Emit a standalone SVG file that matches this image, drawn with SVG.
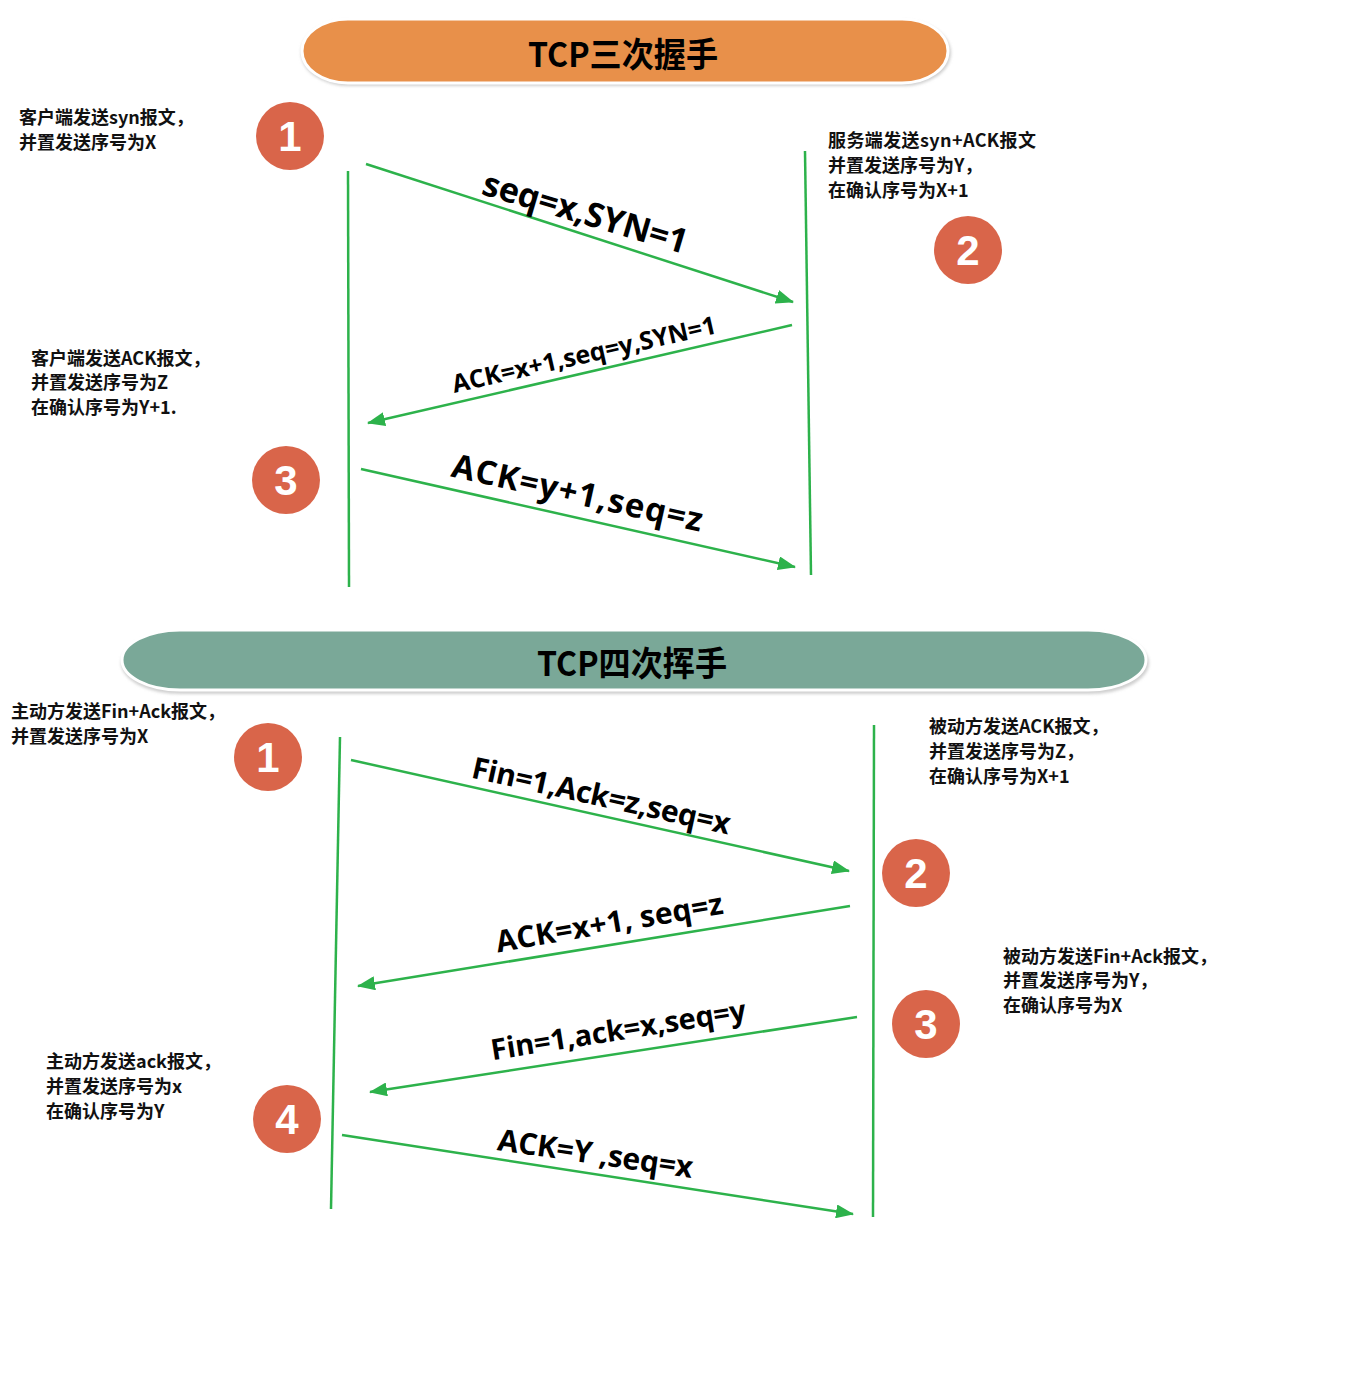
<svg xmlns="http://www.w3.org/2000/svg" width="1356" height="1390" viewBox="0 0 1356 1390">
<style>
.note{font-family:"Noto Sans CJK SC","Noto Sans",sans-serif;font-size:18px;font-weight:bold;fill:#111}
.title{font-family:"Noto Sans CJK SC","Noto Sans",sans-serif;font-size:34px;font-weight:bold;fill:#000}
.lbl{font-family:"Open Sans","Noto Sans",sans-serif;font-weight:bold;fill:#000}
.num{font-family:"Liberation Sans",Arial,sans-serif;font-size:42px;font-weight:bold;fill:#fff}
.life{stroke:#2DB24B;stroke-width:2.5;fill:none}
.msg{stroke:#2DB24B;stroke-width:2.5;fill:none;marker-end:url(#ah)}
.badge{fill:#D9654A}
</style>
<defs>
<marker id="ah" markerUnits="userSpaceOnUse" markerWidth="18" markerHeight="14" refX="17" refY="7" orient="auto">
<path d="M0,0 L18,7 L0,14 z" fill="#2DB24B"/>
</marker>
<filter id="sh" x="-5%" y="-30%" width="110%" height="160%">
<feGaussianBlur stdDeviation="1.5"/>
</filter>
</defs>
<rect width="1356" height="1390" fill="#fff"/>

<g id="title-handshake">
<rect x="301" y="20" width="650" height="66" rx="48" ry="33" fill="#cfcfcf" filter="url(#sh)"/>
<rect x="302" y="19" width="646" height="64" rx="46" ry="32" fill="#E8904A" stroke="#fff" stroke-width="3"/>
<text class="title" x="623" y="67" text-anchor="middle" textLength="190" lengthAdjust="spacingAndGlyphs">TCP三次握手</text>
</g>

<g id="title-wave">
<rect x="121" y="632" width="1028" height="62" rx="60" ry="31" fill="#cfcfcf" filter="url(#sh)"/>
<rect x="122" y="630" width="1024" height="60" rx="58" ry="30" fill="#7AA898" stroke="#fff" stroke-width="3"/>
<text class="title" x="632" y="676" text-anchor="middle" textLength="190" lengthAdjust="spacingAndGlyphs">TCP四次挥手</text>
</g>

<g id="lifelines">
<line class="life" x1="348" y1="171" x2="349" y2="587"/>
<line class="life" x1="805" y1="151" x2="811" y2="575"/>
<line class="life" x1="340" y1="737" x2="331" y2="1209"/>
<line class="life" x1="874" y1="725" x2="873" y2="1217"/>
</g>

<g id="connectors">
<line class="msg" x1="366" y1="164" x2="793" y2="302"/>
<line class="msg" x1="792" y1="325" x2="368" y2="423"/>
<line class="msg" x1="361" y1="469" x2="795" y2="567"/>
<line class="msg" x1="351" y1="760" x2="849" y2="871"/>
<line class="msg" x1="850" y1="906" x2="358" y2="986"/>
<line class="msg" x1="857" y1="1017" x2="370" y2="1092"/>
<line class="msg" x1="342" y1="1135" x2="853" y2="1214"/>
</g>

<g id="msg-labels">
<text class="lbl" font-size="34" text-anchor="middle" textLength="212" transform="translate(582,224) rotate(16.5)">seq=x,SYN=1</text>
<text class="lbl" font-size="25" text-anchor="middle" textLength="270" transform="translate(586,363) rotate(-12.8)">ACK=x+1,seq=y,SYN=1</text>
<text class="lbl" font-size="33" text-anchor="middle" textLength="256" transform="translate(575,504) rotate(12.5)">ACK=y+1,seq=z</text>
<text class="lbl" font-size="30" text-anchor="middle" textLength="264" transform="translate(599,806) rotate(12.5)">Fin=1,Ack=z,seq=x</text>
<text class="lbl" font-size="30" text-anchor="middle" textLength="230" transform="translate(611,933) rotate(-9.7)">ACK=x+1, seq=z</text>
<text class="lbl" font-size="29" text-anchor="middle" textLength="258" transform="translate(620,1040) rotate(-9)">Fin=1,ack=x,seq=y</text>
<text class="lbl" font-size="30" text-anchor="middle" textLength="197" transform="translate(594,1164) rotate(8.2)">ACK=Y ,seq=x</text>
</g>

<g id="step1-syn">
<circle class="badge" cx="290" cy="136" r="34"/>
<text class="num" x="290" y="151" text-anchor="middle">1</text>
<text class="note" x="19" y="124">客户端发送syn报文，</text>
<text class="note" x="19" y="149">并置发送序号为X</text>
</g>

<g id="step2-synack">
<circle class="badge" cx="968" cy="250" r="34"/>
<text class="num" x="968" y="265" text-anchor="middle">2</text>
<text class="note" x="828" y="147" textLength="208">服务端发送syn+ACK报文</text>
<text class="note" x="828" y="172">并置发送序号为Y，</text>
<text class="note" x="828" y="197">在确认序号为X+1</text>
</g>

<g id="step3-ack">
<circle class="badge" cx="286" cy="480" r="34"/>
<text class="num" x="286" y="495" text-anchor="middle">3</text>
<text class="note" x="31" y="365">客户端发送ACK报文，</text>
<text class="note" x="31" y="389">并置发送序号为Z</text>
<text class="note" x="31" y="414">在确认序号为Y+1.</text>
</g>

<g id="wave1">
<circle class="badge" cx="268" cy="757" r="34"/>
<text class="num" x="268" y="772" text-anchor="middle">1</text>
<text class="note" x="11" y="718">主动方发送Fin+Ack报文，</text>
<text class="note" x="11" y="743">并置发送序号为X</text>
</g>

<g id="wave2">
<circle class="badge" cx="916" cy="873" r="34"/>
<text class="num" x="916" y="888" text-anchor="middle">2</text>
<text class="note" x="929" y="733">被动方发送ACK报文，</text>
<text class="note" x="929" y="758">并置发送序号为Z，</text>
<text class="note" x="929" y="783">在确认序号为X+1</text>
</g>

<g id="wave3">
<circle class="badge" cx="926" cy="1024" r="34"/>
<text class="num" x="926" y="1039" text-anchor="middle">3</text>
<text class="note" x="1003" y="963">被动方发送Fin+Ack报文，</text>
<text class="note" x="1003" y="987">并置发送序号为Y，</text>
<text class="note" x="1003" y="1012">在确认序号为X</text>
</g>

<g id="wave4">
<circle class="badge" cx="287" cy="1119" r="34"/>
<text class="num" x="287" y="1134" text-anchor="middle">4</text>
<text class="note" x="46" y="1068">主动方发送ack报文，</text>
<text class="note" x="46" y="1093">并置发送序号为x</text>
<text class="note" x="46" y="1118">在确认序号为Y</text>
</g>
</svg>
